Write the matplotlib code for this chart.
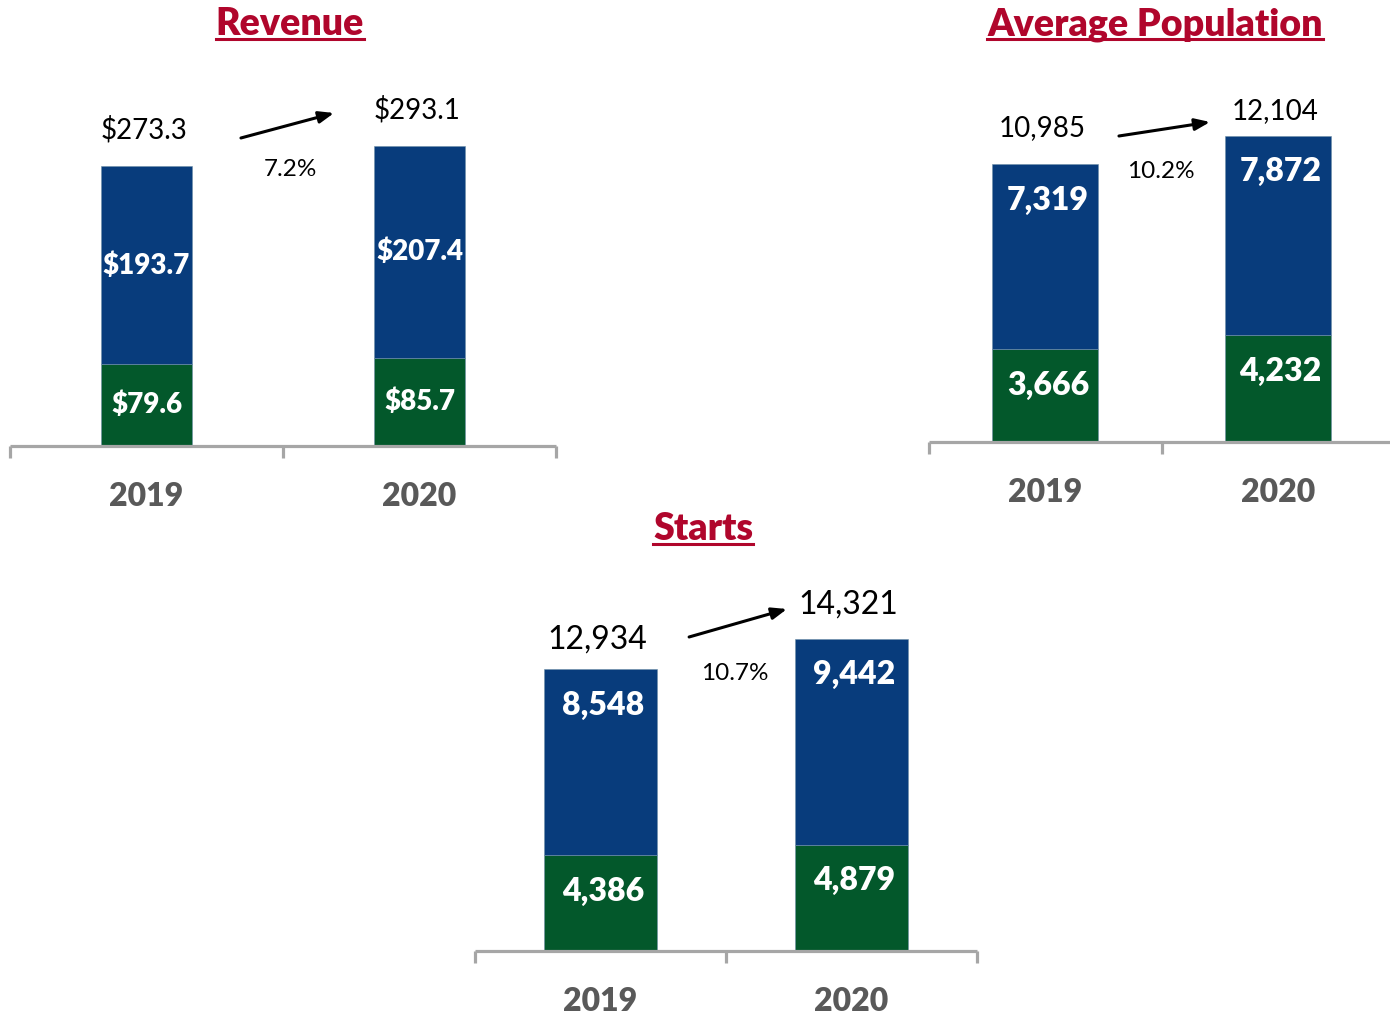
import matplotlib
matplotlib.use("Agg")
import matplotlib.pyplot as plt
from matplotlib.lines import Line2D

plt.rcParams['font.family'] = ['Lato', 'DejaVu Sans']

W, H = 1390, 1014
BLUE = "#083C7C"
GREEN = "#03582B"
RED = "#B0062C"
GRAY = "#A6A6A6"
YEARGRAY = "#595959"
HEAVY = "heavy"

years = ["2019", "2020"]

# Revenue ($M)
rev_green = [79.6, 85.7]
rev_blue = [193.7, 207.4]
rev_total = [273.3, 293.1]
rev_growth = "7.2%"

# Average population
pop_green = [3666, 4232]
pop_blue = [7319, 7872]
pop_total = [10985, 12104]
pop_growth = "10.2%"

# Starts
st_green = [4386, 4879]
st_blue = [8548, 9442]
st_total = [12934, 14321]
st_growth = "10.7%"


def money(v):
    return f"${v:,.1f}"


def count(v):
    return f"{v:,.0f}"


fig = plt.figure(figsize=(W / 100, H / 100), dpi=100)


def panel(x0, x1, base, px_per_unit, green, blue, total, fmt, bar_w,
          tot_size, tot_off, in_size, in_top, growth, pct_xy, arrow_from, arrow_to):
    top_px = 380
    ax = fig.add_axes([x0 / W, 1 - base / H, (x1 - x0) / W, top_px / H])
    ax.set_xlim(-0.5, 1.5)
    ax.set_ylim(0, top_px / px_per_unit)
    x = range(len(years))
    ax.bar(x, green, width=bar_w, color=GREEN, edgecolor="#6f8fa8", linewidth=0.4)
    ax.bar(x, blue, bottom=green, width=bar_w, color=BLUE, edgecolor="#6f8fa8", linewidth=0.4)

    for s in ["top", "left", "right"]:
        ax.spines[s].set_visible(False)
    ax.spines["bottom"].set_color(GRAY)
    ax.spines["bottom"].set_linewidth(2.3)
    ax.spines["bottom"].set_capstyle("butt")
    ax.set_yticks([])
    ax.set_xticks(list(x))
    ax.set_xticklabels(years, fontsize=23, fontweight=HEAVY, color=YEARGRAY)
    ax.tick_params(axis="x", which="major", length=0, pad=26)
    ax.set_xticks([-0.5, 0.5, 1.5], minor=True)
    ax.tick_params(axis="x", which="minor", direction="out", length=8.5,
                   width=2.3, color=GRAY)

    for i in x:
        ax.annotate(fmt(total[i]), (i, total[i]), xytext=(-2, tot_off[i]),
                    textcoords="offset points", ha="center", va="center",
                    fontsize=tot_size, color="black")
        if in_top is None:
            ax.text(i, green[i] / 2, fmt(green[i]), ha="center", va="center",
                    fontsize=in_size, fontweight=HEAVY, color="white")
            ax.text(i, green[i] + blue[i] / 2, fmt(blue[i]), ha="center", va="center",
                    fontsize=in_size, fontweight=HEAVY, color="white")
        else:
            ax.annotate(fmt(green[i]), (i, green[i]), xytext=(2, -in_top),
                        textcoords="offset points", ha="center", va="center",
                        fontsize=in_size, fontweight=HEAVY, color="white")
            ax.annotate(fmt(blue[i]), (i, total[i]), xytext=(2, -in_top),
                        textcoords="offset points", ha="center", va="center",
                        fontsize=in_size, fontweight=HEAVY, color="white")

    ax.annotate("", xy=arrow_to, xytext=arrow_from,
                arrowprops=dict(arrowstyle="-|>,head_length=0.9,head_width=0.35",
                                color="black", lw=2.2, shrinkA=0, shrinkB=0))
    ax.text(pct_xy[0], pct_xy[1], growth, ha="center", va="center",
            fontsize=17.5, color="black")
    return ax


panel(10, 556, 446, 1.024, rev_green, rev_blue, rev_total, money, 0.333,
      20, [26, 26], 20, None, rev_growth, (0.526, 270.5),
      (0.346, 300.8), (0.687, 325.2))

panel(929, 1394, 442, 0.0253, pop_green, pop_blue, pop_total, count, 0.456,
      20, [26, 18], 23, 26, pop_growth, (0.498, 10672),
      (0.317, 12095), (0.709, 12648))

panel(475, 977, 951, 0.0218, st_green, st_blue, st_total, count, 0.454,
      23, [21, 25], 23, 26, st_growth, (0.536, 12752),
      (0.353, 14404), (0.743, 15688))

# titles with underline
titles = [("Revenue", 290, 35), ("Average Population", 1155, 35), ("Starts", 703, 540)]
fig.canvas.draw()
renderer = fig.canvas.get_renderer()
for label, cx, by in titles:
    t = fig.text(cx / W, 1 - by / H, label, ha="center", va="baseline",
                 fontsize=27, fontweight=HEAVY, color=RED)
    bb = t.get_window_extent(renderer=renderer)
    uy = 1 - (by + 4) / H
    fig.add_artist(Line2D([bb.x0 / W, bb.x1 / W], [uy, uy], color=RED, lw=2.2,
                          transform=fig.transFigure))

fig.savefig("out.png", dpi=100)
